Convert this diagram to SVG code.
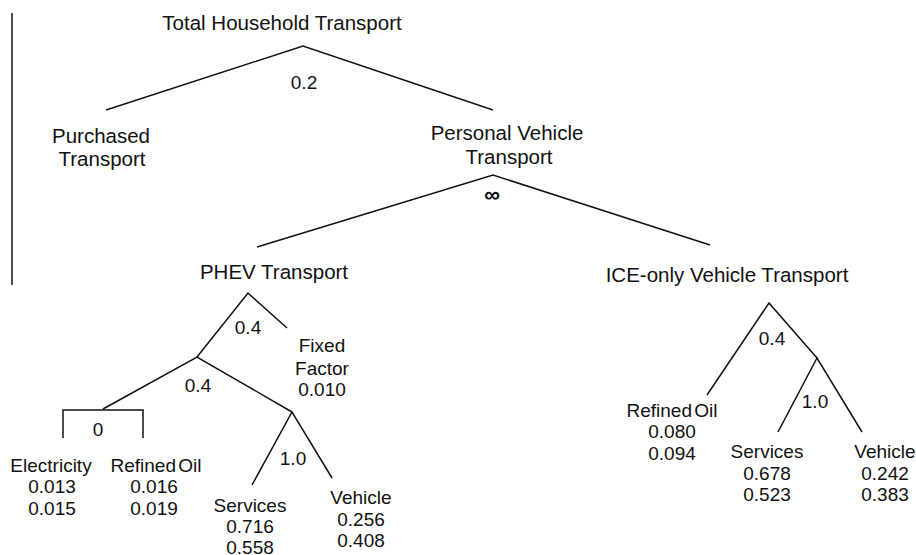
<svg xmlns="http://www.w3.org/2000/svg" width="916" height="555" viewBox="0 0 916 555">
<style>
text{font-family:"Liberation Sans",Arial,sans-serif;fill:#111;text-anchor:middle}
.h{font-size:20.5px}
.l{font-size:19px}
.ro{word-spacing:-3px}
.inf{font-size:22px;font-weight:bold}
.c line,.c polyline{stroke:#111;stroke-width:1.5;fill:none}
</style>
<rect width="916" height="555" fill="#fff"/>
<g class="c" id="connectors">
<line x1="12" y1="13" x2="12" y2="285"/>
<polyline points="106,110 303,46 493,110"/>
<polyline points="257,247 493,175 710,245"/>
<polyline points="197,357 248,293 287,328"/>
<polyline points="103,409 197,357 292,412"/>
<polyline points="63,438 63,410 143,410 143,438"/>
<polyline points="252,485 292,412 332,478"/>
<polyline points="707,395 769,303 817,358"/>
<polyline points="778,432 817,358 862,432"/>
</g>
<g id="total"><text class="h" x="282" y="30">Total Household Transport</text><text class="l" x="304" y="89">0.2</text></g>
<g id="purchased"><text class="h" x="101" y="143">Purchased</text><text class="h" x="102" y="166">Transport</text></g>
<g id="personal"><text class="h" x="507" y="140">Personal Vehicle</text><text class="h" x="509" y="164">Transport</text><text class="inf" x="492" y="202">∞</text></g>
<g id="phev"><text class="h" x="274" y="279">PHEV Transport</text><text class="l" x="248" y="334">0.4</text></g>
<g id="fixed"><text class="l" x="322" y="352">Fixed</text><text class="l" x="322" y="375">Factor</text><text class="l" x="322" y="396">0.010</text></g>
<g id="phev-energy"><text class="l" x="198" y="392">0.4</text><text class="l" x="98" y="436">0</text></g>
<g id="electricity"><text class="l" x="51" y="472">Electricity</text><text class="l" x="52" y="493">0.013</text><text class="l" x="52" y="515">0.015</text></g>
<g id="phev-oil"><text class="l ro" x="156" y="472">Refined Oil</text><text class="l" x="154" y="493">0.016</text><text class="l" x="154" y="515">0.019</text></g>
<g id="phev-sv"><text class="l" x="293" y="465">1.0</text></g>
<g id="phev-services"><text class="l" x="250" y="512">Services</text><text class="l" x="250" y="533">0.716</text><text class="l" x="250" y="554">0.558</text></g>
<g id="phev-vehicle"><text class="l" x="361" y="504">Vehicle</text><text class="l" x="361" y="526">0.256</text><text class="l" x="361" y="547">0.408</text></g>
<g id="ice"><text class="h" x="727" y="282">ICE-only Vehicle Transport</text><text class="l" x="772" y="345">0.4</text></g>
<g id="ice-oil"><text class="l ro" x="672" y="417">Refined Oil</text><text class="l" x="672" y="438">0.080</text><text class="l" x="672" y="460">0.094</text></g>
<g id="ice-sv"><text class="l" x="815" y="408">1.0</text></g>
<g id="ice-services"><text class="l" x="767" y="458">Services</text><text class="l" x="767" y="480">0.678</text><text class="l" x="767" y="501">0.523</text></g>
<g id="ice-vehicle"><text class="l" x="885" y="458">Vehicle</text><text class="l" x="885" y="480">0.242</text><text class="l" x="885" y="501">0.383</text></g>
</svg>
